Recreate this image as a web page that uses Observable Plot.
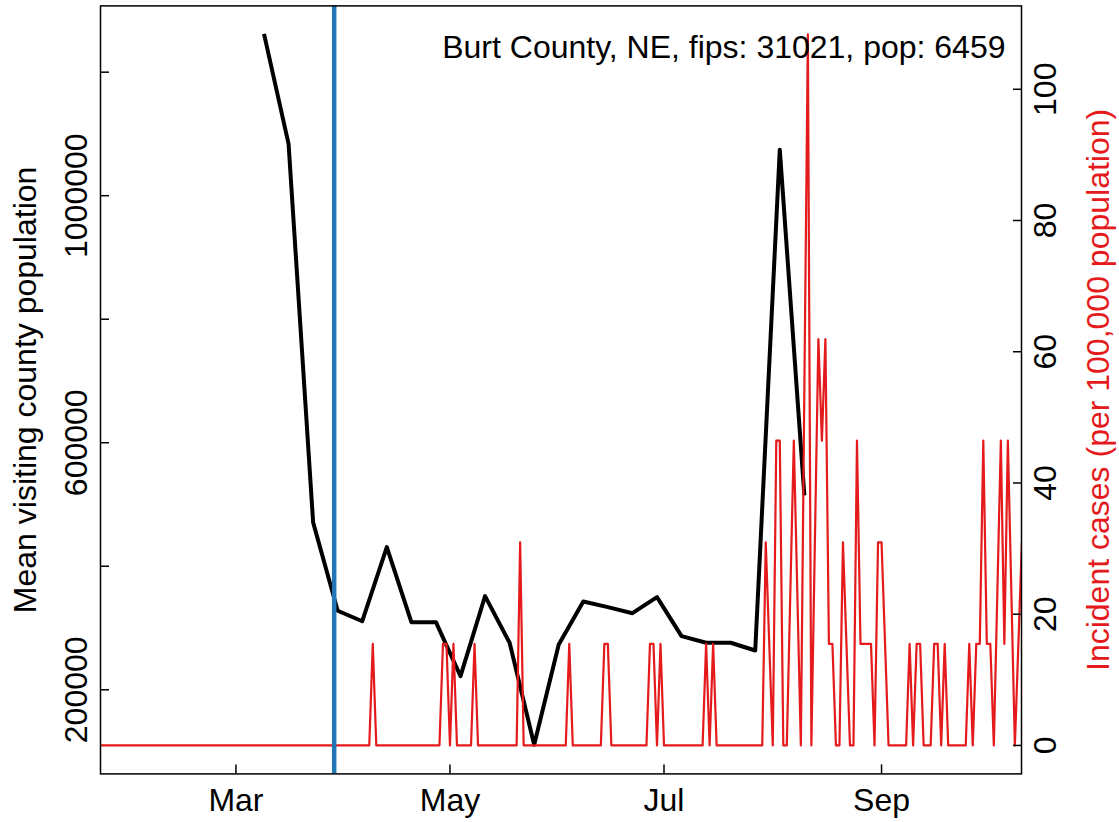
<!DOCTYPE html>
<html><head><meta charset="utf-8">
<script src="https://cdn.jsdelivr.net/npm/d3@7"></script>
<script src="https://cdn.jsdelivr.net/npm/@observablehq/plot@0.6"></script>
<style>
html,body{margin:0;padding:0;background:#fff;overflow:hidden}
#wrap{position:relative;width:1119px;height:822px}
#wrap svg{position:absolute;left:0;top:0}
</style></head><body><div id="wrap"></div>
<script>
const countyTitle = "Burt County, NE, fips: 31021, pop: 6459";
const leftTitle = "Mean visiting county population";
const rightTitle = "Incident cases (per 100,000 population)";

// weekly mean visiting county population (black)
const visitWeeks = ["2020-03-09","2020-03-16","2020-03-23","2020-03-30","2020-04-06","2020-04-13","2020-04-20","2020-04-27",
  "2020-05-04","2020-05-11","2020-05-18","2020-05-25","2020-06-01","2020-06-08","2020-06-15","2020-06-22","2020-06-29",
  "2020-07-06","2020-07-13","2020-07-20","2020-07-27","2020-08-03","2020-08-10"];
const visitMeans = [1262000,1084000,471000,328000,311000,431000,309500,309500,
  222000,351600,276100,110900,273400,343000,333800,324000,350000,
  286800,276100,276100,263600,1074500,514700];

// daily incident cases per 100,000 (red)
const caseDates = ["2020-01-22","2020-04-08","2020-04-09","2020-04-10","2020-04-28","2020-04-29","2020-04-30","2020-05-01",
  "2020-05-02","2020-05-03","2020-05-07","2020-05-08","2020-05-09","2020-05-20","2020-05-21","2020-05-22","2020-06-03",
  "2020-06-04","2020-06-05","2020-06-13","2020-06-14","2020-06-15","2020-06-16","2020-06-26","2020-06-27","2020-06-28",
  "2020-06-29","2020-06-30","2020-07-01","2020-07-12","2020-07-13","2020-07-14","2020-07-15","2020-07-16","2020-07-29",
  "2020-07-30","2020-08-01","2020-08-02","2020-08-03","2020-08-04","2020-08-05","2020-08-07","2020-08-09","2020-08-11",
  "2020-08-12","2020-08-14","2020-08-15","2020-08-16","2020-08-17","2020-08-18","2020-08-19","2020-08-20","2020-08-21",
  "2020-08-23","2020-08-24","2020-08-25","2020-08-26","2020-08-27","2020-08-28","2020-08-29","2020-08-30","2020-08-31",
  "2020-09-01","2020-09-03","2020-09-08","2020-09-09","2020-09-10","2020-09-11","2020-09-12","2020-09-13","2020-09-15",
  "2020-09-16","2020-09-17","2020-09-18","2020-09-19","2020-09-20","2020-09-25","2020-09-26","2020-09-27","2020-09-28",
  "2020-09-29","2020-09-30","2020-10-01","2020-10-02","2020-10-03","2020-10-05","2020-10-06","2020-10-07","2020-10-09",
  "2020-10-11"];
const caseRates = [0,0,15.48,0,0,15.48,15.48,0,
  15.48,0,0,15.48,0,0,30.96,0,0,
  15.48,0,0,15.48,15.48,0,0,15.48,15.48,
  0,15.48,0,0,15.48,0,15.48,0,0,
  30.96,0,46.45,46.45,0,0,46.45,0,108.37,
  0,61.93,46.45,61.93,15.48,15.48,0,0,30.96,
  0,0,46.45,15.48,15.48,15.48,15.48,0,30.96,
  30.96,0,0,15.48,0,15.48,15.48,0,0,
  15.48,15.48,0,15.48,0,0,15.48,0,15.48,
  15.48,46.45,15.48,15.48,0,46.45,15.48,46.45,0,
  30.96];

const policyDate = ["2020-03-29"];
const monthTicks = ["2020-03-01","2020-05-01","2020-07-01","2020-09-01"];
const monthLabels = ["Mar","May","Jul","Sep"];
const leftTicks = [200000,400000,600000,800000,1000000,1200000];
const leftLabelValues = [200000,600000,1000000];
const rightTicks = [0,20,40,60,80,100];

const W = 1119, H = 822;
const margins = {marginTop: 5.4, marginBottom: 48.6, marginLeft: 100, marginRight: 98};
const xDomain = [new Date("2020-01-22T09:36Z"), new Date("2020-10-10T21:20Z")];
const FONT = "'Liberation Sans', Arial, Helvetica, sans-serif";
const FS = 32;
const RED = "#e41a1c";
const rot = {rotate: -90, textAnchor: "middle", lineAnchor: "middle", fontSize: FS};

const p1 = Plot.plot({
  width: W, height: H, ...margins,
  style: {fontFamily: FONT, background: "white", color: "black"},
  x: {type: "utc", domain: xDomain, axis: null},
  y: {domain: [63800, 1307300], axis: null},
  marks: [
    Plot.axisX(monthTicks.map(d => new Date(d)), {anchor: "bottom", tickSize: -9, strokeWidth: 1.5, tickFormat: () => "", label: null}),
    Plot.text(monthTicks, {x: d => new Date(d), text: (d, i) => monthLabels[i], frameAnchor: "bottom", dy: 27, textAnchor: "middle", lineAnchor: "middle", fontSize: FS}),
    Plot.axisY(leftTicks, {anchor: "left", tickSize: -9, strokeWidth: 1.5, tickFormat: () => "", label: null}),
    Plot.text(leftLabelValues, {y: d => d, text: d => String(d), frameAnchor: "left", dx: -24, ...rot}),
    Plot.text([leftTitle], {frameAnchor: "left", dx: -75, ...rot}),
    Plot.line(visitWeeks.map((d, i) => ({date: new Date(d), v: visitMeans[i]})),
      {x: "date", y: "v", stroke: "black", strokeWidth: 4, strokeLinejoin: "round", strokeLinecap: "butt"})
  ]
});

const p2 = Plot.plot({
  width: W, height: H, ...margins,
  style: {fontFamily: FONT, background: "transparent", color: "black"},
  x: {type: "utc", domain: xDomain, axis: null},
  y: {domain: [-4.335, 112.705], axis: null},
  marks: [
    Plot.line(caseDates.map((d, i) => ({date: new Date(d), r: caseRates[i]})),
      {x: "date", y: "r", stroke: RED, strokeWidth: 2.2, strokeLinejoin: "round", clip: true}),
    Plot.ruleX(policyDate, {x: d => new Date(d), stroke: "#1f77b4", strokeWidth: 4.5}),
    Plot.axisY(rightTicks, {anchor: "right", tickSize: -9, strokeWidth: 1.5, tickFormat: () => "", label: null}),
    Plot.text(rightTicks, {y: d => d, text: d => String(d), frameAnchor: "right", dx: 24, ...rot}),
    Plot.text([rightTitle], {frameAnchor: "right", dx: 77, ...rot, fill: RED}),
    Plot.text([countyTitle], {frameAnchor: "top-right", dx: -16, dy: 42, textAnchor: "end", lineAnchor: "middle", fontSize: FS}),
    Plot.frame({stroke: "black", strokeWidth: 1.5})
  ]
});

const wrap = document.getElementById("wrap");
wrap.appendChild(p1);
wrap.appendChild(p2);
</script></body></html>
